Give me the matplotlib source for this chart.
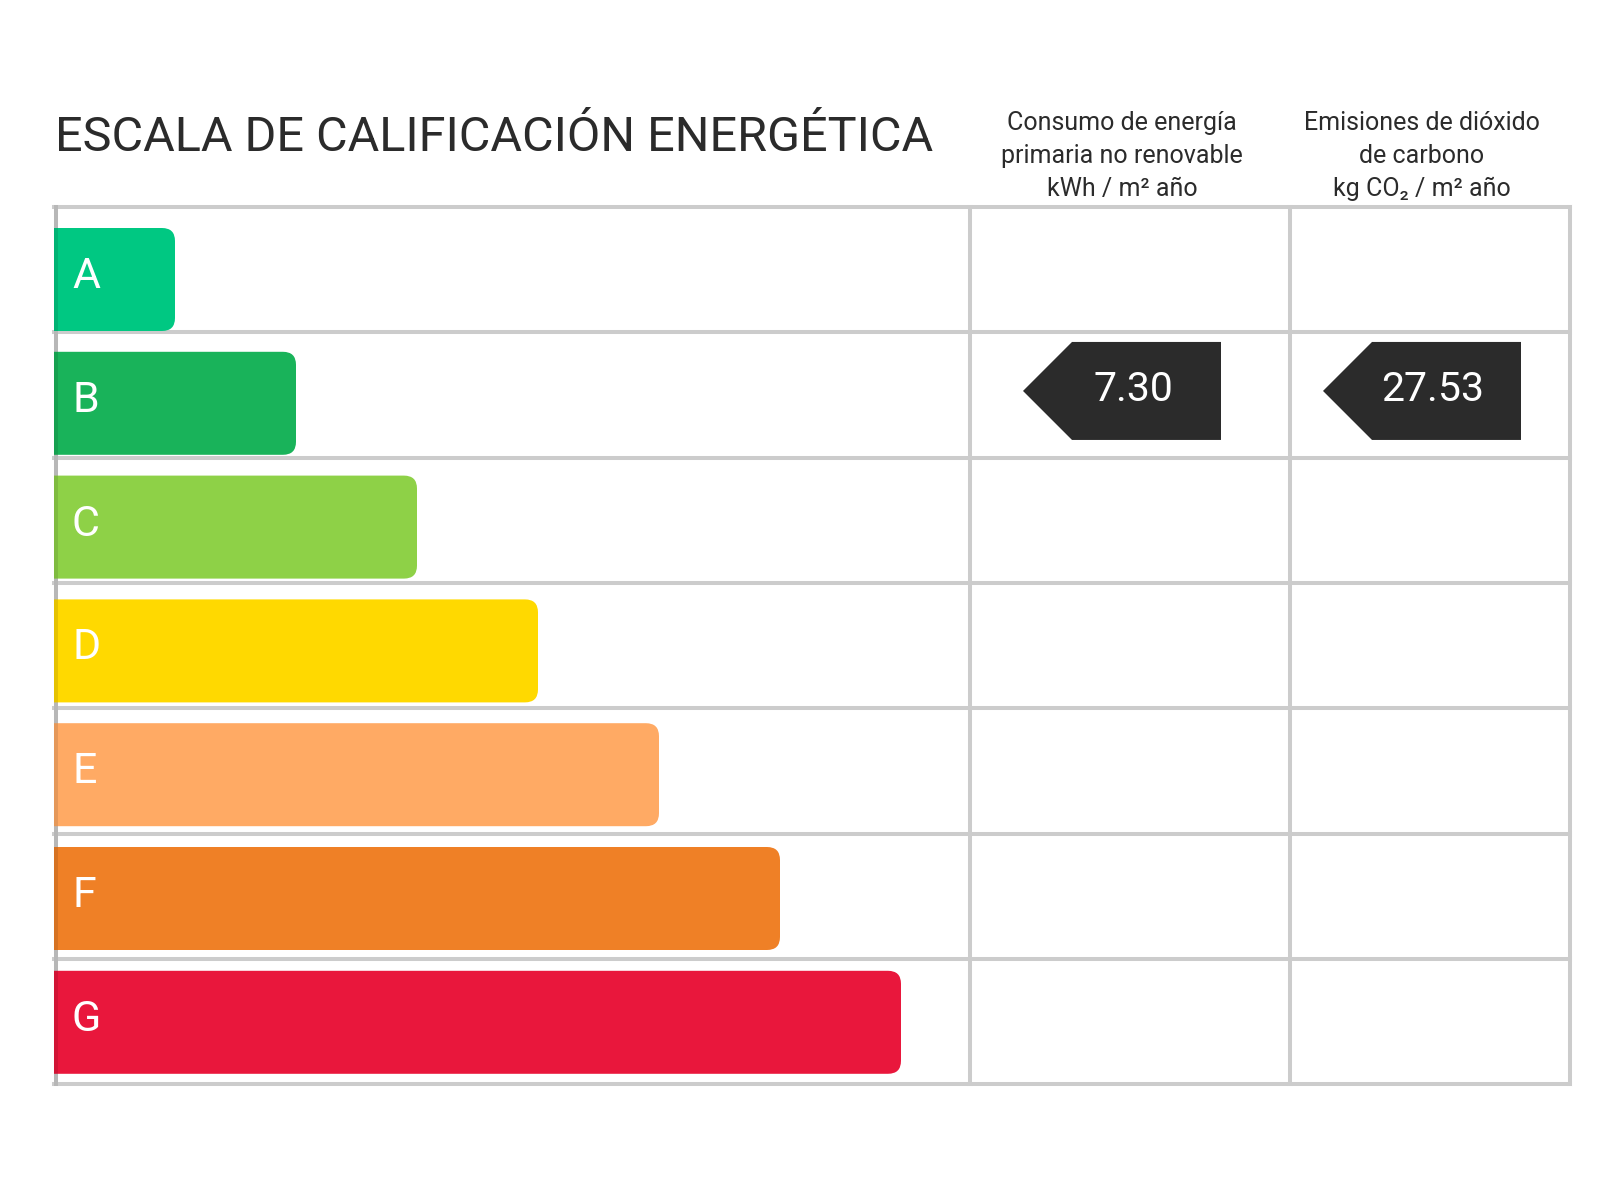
import matplotlib
matplotlib.use('Agg')
import matplotlib.pyplot as plt
from matplotlib.patches import PathPatch, Polygon
from matplotlib.path import Path

# ---- data ----
letters = ['A', 'B', 'C', 'D', 'E', 'F', 'G']
levels = [1, 2, 3, 4, 5, 6, 7]
bar_colors = ['#00c882', '#19b35a', '#8ed147', '#ffd900', '#ffaa64', '#ef8026', '#e9173c']
title = 'ESCALA DE CALIFICACIÓN ENERGÉTICA'
col_headers = ['Consumo de energía\nprimaria no renovable\nkWh / m² año',
               'Emisiones de dióxido\nde carbono\nkg CO₂ / m² año']
col_values = ['7.30', '27.53']
col_rating = ['B', 'B']

# ---- layout (pixels) ----
W, H = 1600, 1200
left, top = 56, 207
row_h = 125.3
col_x = [970, 1290, 1570]
unit_w = 121
bar_top, bar_pitch, bar_h = 228, 123.8, 103
line_c = '#cccccc'
lw = 2.9
fam = ['Roboto', 'DejaVu Sans']


def right_rounded(x0, y0, w, h, r):
    x1, y1 = x0 + w, y0 + h
    verts = [(x0, y0), (x1 - r, y0), (x1, y0), (x1, y0 + r),
             (x1, y1 - r), (x1, y1), (x1 - r, y1), (x0, y1), (x0, y0)]
    codes = [Path.MOVETO, Path.LINETO, Path.CURVE3, Path.CURVE3,
             Path.LINETO, Path.CURVE3, Path.CURVE3, Path.LINETO, Path.CLOSEPOLY]
    return Path(verts, codes)


fig = plt.figure(figsize=(16, 12), dpi=100)
ax = fig.add_axes([0, 0, 1, 1])
ax.set_xlim(0, W)
ax.set_ylim(H, 0)
ax.axis('off')

n = len(letters)
bottom = top + n * row_h

# grid
for i in range(n + 1):
    y = top + i * row_h
    ax.plot([left - 2, col_x[-1]], [y, y], color=line_c, lw=lw, zorder=1, solid_capstyle='projecting')
for x in [left] + col_x:
    ax.plot([x, x], [top, bottom], color=line_c, lw=lw, zorder=1, solid_capstyle='projecting')

# bars
for i, (lab, lev, c) in enumerate(zip(letters, levels, bar_colors)):
    y0 = bar_top + i * bar_pitch
    x0 = left - 2
    w = lev * unit_w
    ax.add_patch(PathPatch(right_rounded(x0, y0, w, bar_h, 13), fc=c, ec='none', zorder=2))
    ax.text(x0 + 18, y0 + bar_h / 2 - 3, lab, color='white', fontsize=31,
            family=fam, ha='left', va='center', zorder=3)
# darker strip at left edge of bars
ax.plot([left, left], [top, bottom], color='black', alpha=0.1, lw=lw, zorder=3)

# title
ax.text(55, 138, title, fontsize=35, color='#2b2b2b', family=fam,
        ha='left', va='center')

# value arrows
arrow_w, arrow_h = 198, 98
for j, (hdr, val, rat) in enumerate(zip(col_headers, col_values, col_rating)):
    cx0, cx1 = col_x[j], col_x[j + 1]
    ri = letters.index(rat)
    cy = top + ri * row_h + row_h / 2 - 4
    acx = (cx0 + cx1) / 2 - 8
    xl, xr = acx - arrow_w / 2, acx + arrow_w / 2
    tip = arrow_h / 2
    poly = Polygon([(xl, cy), (xl + tip, cy - arrow_h / 2), (xr, cy - arrow_h / 2),
                    (xr, cy + arrow_h / 2), (xl + tip, cy + arrow_h / 2)],
                   closed=True, fc='#2b2b2b', ec='none', zorder=3)
    ax.add_patch(poly)
    ax.text(acx + 11, cy - 1, val, color='white', fontsize=29.5, family=fam,
            ha='center', va='center', zorder=4)
    ax.text(acx, 156, hdr, color='#2b2b2b', fontsize=18, family=fam,
            ha='center', va='center', linespacing=1.45)

fig.savefig('out.png', dpi=100, facecolor='white')
